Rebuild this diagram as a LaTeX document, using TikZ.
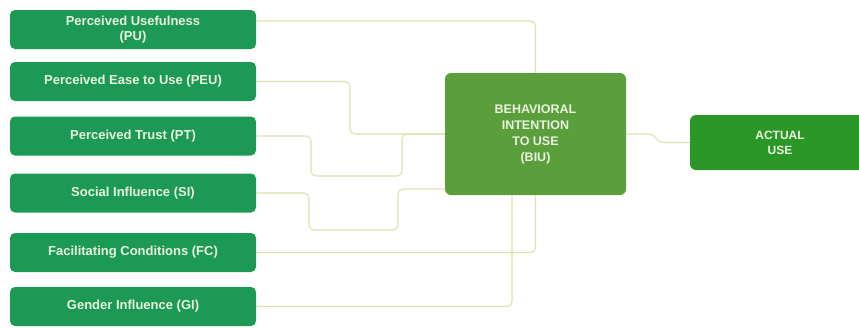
\documentclass[tikz,border=0pt]{standalone}
\usepackage{fontspec}
\setmainfont{Liberation Sans}
\definecolor{leftgreen}{HTML}{1C9A55}
\definecolor{biugreen}{HTML}{5B9E3C}
\definecolor{actgreen}{HTML}{2B9727}
\definecolor{txtpale}{HTML}{E8F4DE}
\definecolor{linecol}{HTML}{DCE3AF}
\tikzset{
  factor/.style={draw=none, fill=leftgreen, rounded corners=5pt, minimum width=246pt, minimum height=39pt,
    text=txtpale, font=\bfseries\fontsize{13}{14.5}\selectfont, align=center, inner sep=0pt},
  biubox/.style={draw=none, fill=biugreen, rounded corners=6pt, minimum width=181pt, minimum height=122pt,
    text=txtpale, font=\bfseries\fontsize{12.5}{16}\selectfont, align=center, inner sep=0pt},
  actbox/.style={draw=none, fill=actgreen, rounded corners=6pt, minimum width=180pt, minimum height=55pt,
    text=txtpale, font=\bfseries\fontsize{12}{15}\selectfont, align=center, inner sep=0pt},
  link/.style={draw=linecol, line width=1.1pt, rounded corners=5pt}
}
\begin{document}
\begin{tikzpicture}[x=1pt,y=-1pt]
\useasboundingbox[fill=white] (0,0) rectangle (859,327);
\node[factor] (PU)  at (133,29.5)  {Perceived Usefulness\\(PU)};
\node[factor] (PEU) at (133,81.5)  {Perceived Ease to Use (PEU)};
\node[factor] (PT)  at (133,136)   {Perceived Trust (PT)};
\node[factor] (SI)  at (133,193)   {Social Influence (SI)};
\node[factor] (FC)  at (133,252.5) {Facilitating Conditions (FC)};
\node[factor] (GI)  at (133,306.5) {Gender Influence (GI)};
\node[biubox] (BIU) at (535.5,134) {BEHAVIORAL\\INTENTION\\TO USE\\(BIU)};
\node[actbox] (ACT) at (780,142.5) {ACTUAL\\USE};
\coordinate (biuSI) at (445,189);
\draw[link] ([yshift=8.5pt]PU.east) -| (BIU.north);
\draw[link] (PEU.east) -- (350,81.5) |- (BIU.west);
\draw[link] (PT.east) -- (311,136) -- (311,176) -- (402,176) |- (BIU.west);
\draw[link] (SI.east) -- (309,193) -- (309,230) -- (398,230) |- (biuSI);
\draw[link] (FC.east) -| (BIU.south);
\draw[link] (GI.east) -| ([xshift=-23.5pt]BIU.south);
\draw[link] (BIU.east) -- (653,134) -- (659,142.5) -- (ACT.west);
\end{tikzpicture}
\end{document}
